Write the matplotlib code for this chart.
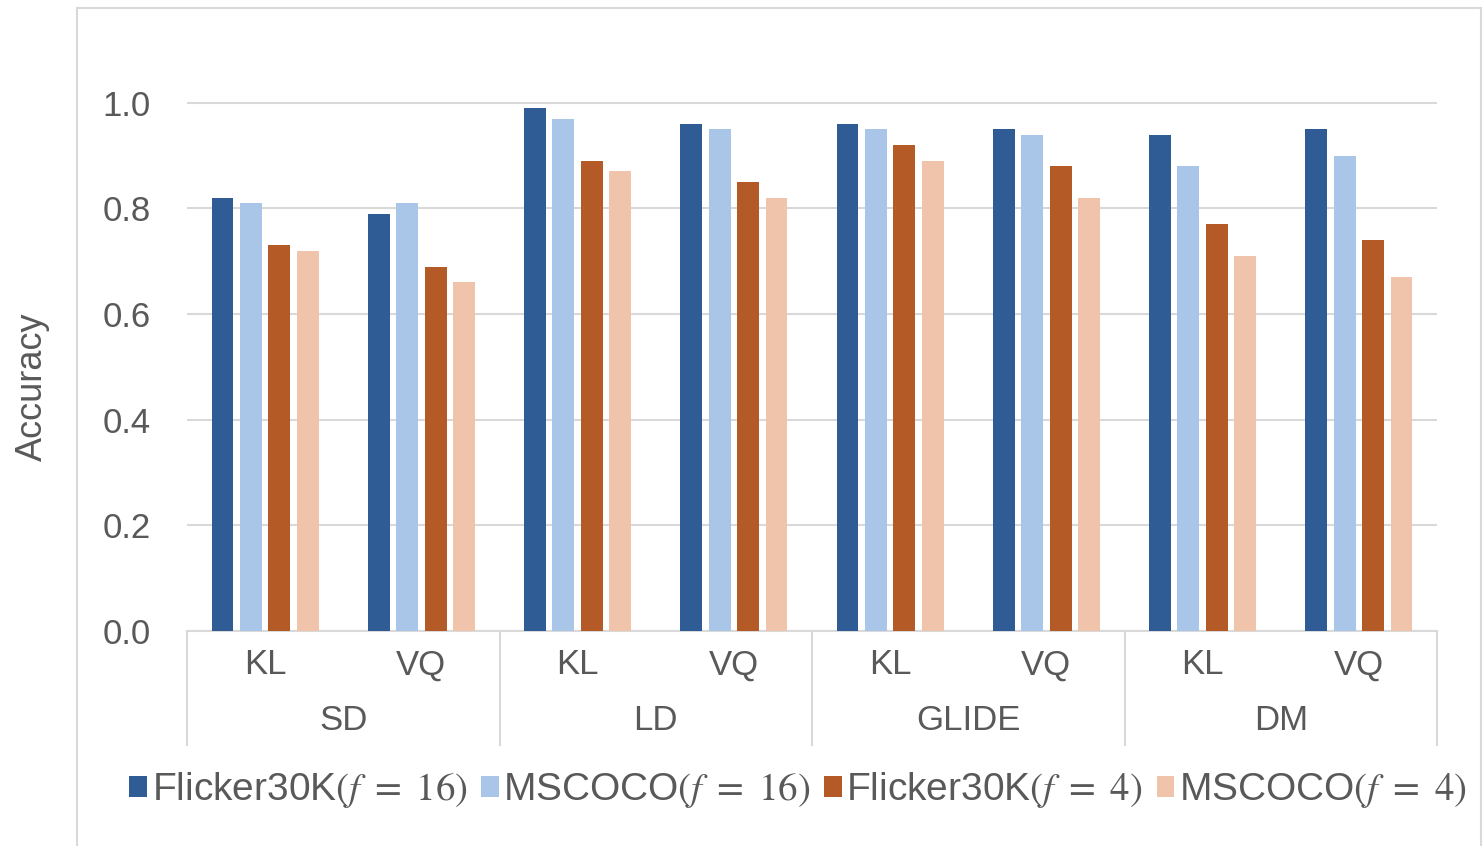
import matplotlib
matplotlib.use("Agg")
import matplotlib.pyplot as plt
import matplotlib.transforms as mtransforms
from matplotlib.patches import Rectangle
import numpy as np

# ---- data ----
groups = ["SD", "LD", "GLIDE", "DM"]
subcats = ["KL", "VQ"]
series_names = [r"Flicker30K$(f\ =\ 16)$", r"MSCOCO$(f\ =\ 16)$",
                r"Flicker30K$(f\ =\ 4)$", r"MSCOCO$(f\ =\ 4)$"]
flicker_f16 = [0.82, 0.79, 0.99, 0.96, 0.96, 0.95, 0.94, 0.95]
mscoco_f16 = [0.81, 0.81, 0.97, 0.95, 0.95, 0.94, 0.88, 0.90]
flicker_f4 = [0.73, 0.69, 0.89, 0.85, 0.92, 0.88, 0.77, 0.74]
mscoco_f4 = [0.72, 0.66, 0.87, 0.82, 0.89, 0.82, 0.71, 0.67]
yticks = [0.0, 0.2, 0.4, 0.6, 0.8, 1.0]

series = [flicker_f16, mscoco_f16, flicker_f4, mscoco_f4]
colors = ["#2F5C94", "#A9C6E8", "#B35A27", "#F0C4AA"]

plt.rcParams['font.family'] = ['Liberation Sans', 'DejaVu Sans']
plt.rcParams['mathtext.fontset'] = 'stix'
txt = "#595959"

W, H = 1483, 846
fig = plt.figure(figsize=(W / 100, H / 100), dpi=100)
fig.patch.set_facecolor("white")

left_px, right_px, bottom_px, top_px = 187, 1437, 631, 50
ax = fig.add_axes([left_px / W, 1 - bottom_px / H,
                   (right_px - left_px) / W, (bottom_px - top_px) / H])

n = len(series)
x = np.arange(len(groups) * len(subcats))
bw = 0.14
pitch = 0.182
for i, (vals, c, name) in enumerate(zip(series, colors, series_names)):
    ax.bar(x + (i - (n - 1) / 2) * pitch, vals, width=bw, color=c,
           label=name, zorder=3)

ax.set_xlim(-0.5, len(x) - 0.5)
ax.set_ylim(0, 1.1)
ax.set_yticks(yticks)
ax.set_yticklabels([f"{t:.1f}" for t in yticks], fontsize=25, color=txt)
ax.tick_params(axis='y', length=0, pad=26)
ax.set_xticks([])
ax.grid(axis='y', color="#D9D9D9", lw=1.5, zorder=0)
for s in ["top", "right", "left"]:
    ax.spines[s].set_visible(False)
ax.spines["bottom"].set_color("#D9D9D9")
ax.spines["bottom"].set_linewidth(1.5)

fig.text(32 / W, 1 - 387 / H, "Accuracy", rotation=90, ha='center',
         va='center', fontsize=26, color=txt)

# multi-level category axis
tr = mtransforms.blended_transform_factory(ax.transData, fig.transFigure)
for b in np.arange(-0.5, len(x), 2):
    ax.plot([b, b], [1 - bottom_px / H, 1 - 745 / H], transform=tr,
            color="#D9D9D9", lw=1.5, clip_on=False)
for i in range(len(x)):
    ax.text(x[i], 1 - 665 / H, subcats[i % 2], transform=tr, ha='center',
            va='center', fontsize=25, color=txt)
for g, name in enumerate(groups):
    ax.text(2 * g + 0.5, 1 - 721 / H, name, transform=tr, ha='center',
            va='center', fontsize=25, color=txt)

# legend
leg = fig.legend(loc='center', bbox_to_anchor=(798 / W, 1 - 790 / H), ncol=4,
                 frameon=False, fontsize=28, handlelength=0.45,
                 handleheight=0.45, handletextpad=0.12, columnspacing=0.35,
                 labelcolor=txt)

# outer chart frame
fig.patches.append(Rectangle((77 / W, -0.01), (1481 - 77) / W, 1.01 - 8 / H,
                             transform=fig.transFigure, fill=False,
                             edgecolor="#D9D9D9", lw=1.5))

fig.savefig("out.png", dpi=100)
